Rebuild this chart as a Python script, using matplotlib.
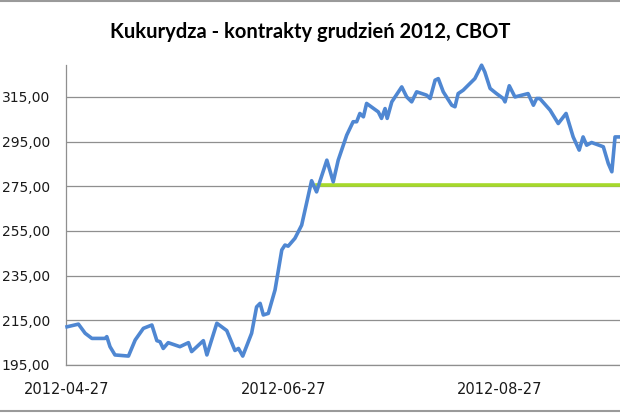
import matplotlib.pyplot as plt
from matplotlib.lines import Line2D

# dni liczone od 2012-04-27
dni = [0.0, 3.2, 5.1, 7.0, 10.7, 11.2, 12.1, 13.5, 17.3, 19.2,
       21.5, 23.9, 25.3, 26.2, 27.1, 28.5, 31.8, 34.2, 35.1, 38.4,
       39.4, 42.2, 45.0, 47.3, 48.3, 49.5, 52.0, 53.4, 54.4, 55.3,
       56.7, 58.6, 60.5, 61.4, 62.3, 64.2, 66.1, 68.9, 70.3, 71.3,
       73.2, 75.0, 76.4, 78.8, 80.6, 81.6, 82.5, 83.5, 84.4, 87.7,
       88.6, 89.6, 90.2, 91.5, 94.3, 95.7, 97.1, 98.5, 101.3, 102.3,
       103.7, 104.6, 106.0, 108.4, 109.3, 110.2, 111.6, 113.5, 114.9, 116.8,
       117.7, 119.2, 121.0, 122.9, 123.4, 124.6, 126.2, 129.9, 131.4, 132.3,
       133.2, 136.1, 138.4, 140.6, 142.6, 144.3, 145.4, 146.4, 147.8, 151.1,
       152.5, 153.5, 154.4, 156.5]
ceny = [212.1, 213.3, 209.2, 206.9, 206.9, 207.7, 203.2, 199.5, 199.0, 206.2,
        211.4, 212.9, 205.9, 205.4, 202.4, 205.0, 203.2, 205.0, 201.0, 205.9,
        199.5, 213.7, 210.4, 201.5, 202.4, 199.0, 209.2, 221.0, 222.6, 217.4,
        218.1, 228.6, 246.5, 248.7, 248.2, 251.7, 257.6, 277.5, 272.5, 277.5,
        286.7, 277.0, 286.7, 297.9, 303.9, 303.9, 307.6, 306.1, 312.1, 308.3,
        305.4, 309.8, 305.4, 312.8, 319.5, 315.0, 312.8, 317.3, 315.8, 314.3,
        322.5, 323.2, 317.3, 311.3, 310.6, 316.5, 318.0, 321.0, 323.2, 329.2,
        326.2, 318.8, 316.5, 314.3, 312.8, 320.0, 315.0, 316.5, 311.3, 314.3,
        314.3, 309.1, 303.1, 307.6, 297.1, 291.2, 297.1, 293.4, 294.6, 292.7,
        285.2, 281.5, 297.1, 297.1]

poziom = 275.6
poziom_od = 70.5

etykiety_x = ['2012-04-27', '2012-06-27', '2012-08-27']
dni_etykiet = [0, 61, 122]
ticki_y = [195, 215, 235, 255, 275, 295, 315]

fig = plt.figure(figsize=(6.2, 4.13), dpi=100)
ax = fig.add_axes([66 / 620, 48 / 413, 1 - 66 / 620, 300 / 413])

ax.plot(dni, ceny, color='#4F87D2', linewidth=2.6, solid_joinstyle='round', clip_on=False, zorder=3)
ax.plot([poziom_od, 200], [poziom, poziom], color='#A6D92B', linewidth=2.6, zorder=2)

ax.set_xlim(-0.3, 155.8)
ax.set_ylim(195, 329.3)
ax.set_yticks(ticki_y)
ax.set_yticklabels([f'{v:.2f}'.replace('.', ',') for v in ticki_y])
ax.set_xticks(dni_etykiet)
ax.set_xticklabels(etykiety_x)
ax.tick_params(axis='y', length=0, pad=11.5, labelsize=10, labelcolor='#1a1a1a')
ax.tick_params(axis='x', length=0, pad=12, labelsize=10.5, labelcolor='#1a1a1a')
ax.grid(axis='y', color='#8f8f8f', linewidth=0.9)
ax.set_axisbelow(True)

for s in ['top', 'right']:
    ax.spines[s].set_visible(False)
for s in ['left', 'bottom']:
    ax.spines[s].set_color('#8f8f8f')
    ax.spines[s].set_linewidth(0.9)

fig.text(0.5, 1 - 32 / 413, 'Kukurydza - kontrakty grudzień 2012, CBOT',
         ha='center', va='center', fontsize=14.5, fontweight='bold', family='Lato')

# ramka wykresu
fig.add_artist(Line2D([0, 1], [1 - 0.5 / 413, 1 - 0.5 / 413], color='#9a9a9a', linewidth=1.5))
fig.add_artist(Line2D([0, 1], [2 / 413, 2 / 413], color='#9a9a9a', linewidth=1.5))

fig.savefig('out.png', dpi=100)
